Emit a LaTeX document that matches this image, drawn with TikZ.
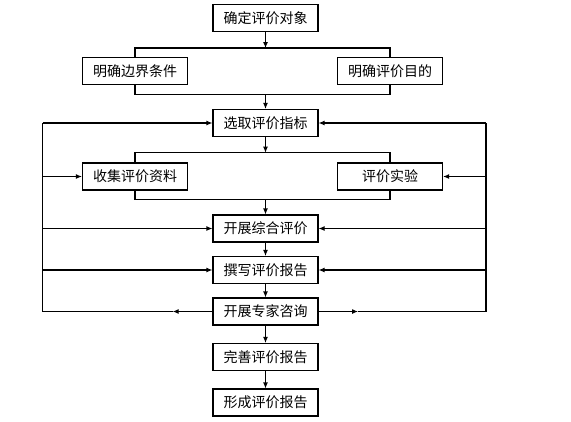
\documentclass[tikz,border=0pt]{standalone}
\usepackage{fontspec}
\setmainfont{Noto Sans CJK SC}
\usetikzlibrary{arrows.meta}
\begin{document}
\begin{tikzpicture}[x=1pt,y=-1pt,
  box/.style={draw,line width=1.1pt,minimum width=105pt,minimum height=27pt,inner sep=0pt,
    font=\fontsize{14}{16}\selectfont},
  ln/.style={line width=1.1pt},
  arr/.style={line width=1.1pt,-{Latex[length=6pt,width=5pt]}}]
\useasboundingbox (0,0) rectangle (571,421);
\node[box] (n1) at (265.5,18) {确定评价对象};
\node[box] (n2l) at (135,71) {明确边界条件};
\node[box] (n2r) at (390,71) {明确评价目的};
\node[box] (n3) at (265.5,123) {选取评价指标};
\node[box] (n4l) at (135,176.5) {收集评价资料};
\node[box] (n4r) at (390,176.5) {评价实验};
\node[box] (n5) at (265.5,228.5) {开展综合评价};
\node[box] (n6) at (265.5,270) {撰写评价报告};
\node[box] (n7) at (265.5,311.5) {开展专家咨询};
\node[box] (n8) at (265.5,357) {完善评价报告};
\node[box] (n9) at (265.5,402.5) {形成评价报告};
% branch after n1
\coordinate (s1) at (265.5,48);
\draw[arr] (n1.south) -- (s1);
\draw[ln] (n2l.north) -- (n2l.north |- s1) -- (n2r.north |- s1) -- (n2r.north);
\coordinate (m1) at (265.5,94.7);
\draw[ln] (n2l.south) -- (n2l.south |- m1) -- (n2r.south |- m1) -- (n2r.south);
\draw[arr] (m1) -- (n3.north);
% branch after n3
\coordinate (s2) at (265.5,152.7);
\draw[arr] (n3.south) -- (s2);
\draw[ln] (n4l.north) -- (n4l.north |- s2) -- (n4r.north |- s2) -- (n4r.north);
\coordinate (m2) at (265.5,199.3);
\draw[ln] (n4l.south) -- (n4l.south |- m2) -- (n4r.south |- m2) -- (n4r.south);
\draw[arr] (m2) -- (n5.north);
% main chain
\draw[arr] (n5.south) -- (n6.north);
\draw[arr] (n6.south) -- (n7.north);
\draw[arr] (n7.south) -- (n8.north);
\draw[arr] (n8.south) -- (n9.north);
% feedback loops
\coordinate (L) at (42.7,0);
\coordinate (R) at (486,0);
\draw[ln] (n3.west -| L) -- (n7.west -| L);
\draw[ln] (n3.east -| R) -- (n7.east -| R);
\draw[arr] (n3.west -| L) -- (n3.west);
\draw[arr] (n4l.west -| L) -- (n4l.west);
\draw[arr] (n5.west -| L) -- (n5.west);
\draw[arr] (n6.west -| L) -- (n6.west);
\draw[arr] (n3.east -| R) -- (n3.east);
\draw[arr] (n4r.east -| R) -- (n4r.east);
\draw[arr] (n5.east -| R) -- (n5.east);
\draw[arr] (n6.east -| R) -- (n6.east);
\coordinate (ml) at (172.7,311.5);
\coordinate (mr) at (358,311.5);
\draw[arr] (n7.west) -- (ml);
\draw[ln] (ml) -- (n7.west -| L);
\draw[arr] (n7.east) -- (mr);
\draw[ln] (mr) -- (n7.east -| R);
\end{tikzpicture}
\end{document}
